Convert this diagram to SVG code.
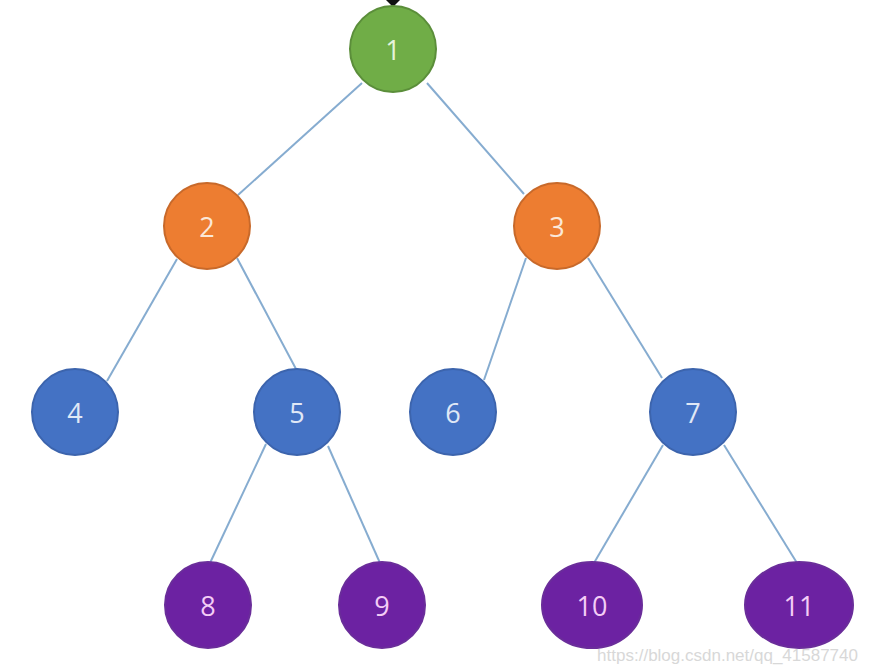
<svg xmlns="http://www.w3.org/2000/svg" width="869" height="672" viewBox="0 0 869 672">
<style>
.e{stroke:#86acd0;stroke-width:2;fill:none}
.t{font-family:"Open Sans","Liberation Sans",sans-serif;font-size:27px;text-anchor:middle;dominant-baseline:central}
.g{fill:#70ad47;stroke:#5b8e3a;stroke-width:2}
.o{fill:#ed7d31;stroke:#c8692a;stroke-width:2}
.b{fill:#4472c4;stroke:#3c64ad;stroke-width:2}
.p{fill:#6c22a2;stroke:#6a2d9a;stroke-width:2}
.tg{fill:#e6f3dc}.to{fill:#fbe8d8}.tb{fill:#e0e8f6}.tp{fill:#f4cdf6}
</style>
<rect width="869" height="672" fill="#ffffff"/>
<g id="connectors">
<line class="e" x1="362" y1="83" x2="238" y2="195"/>
<line class="e" x1="427" y1="83" x2="524" y2="194"/>
<line class="e" x1="177" y1="259" x2="107" y2="381"/>
<line class="e" x1="237" y1="258" x2="296" y2="369"/>
<line class="e" x1="526" y1="258" x2="484" y2="380"/>
<line class="e" x1="588" y1="258" x2="662" y2="378"/>
<line class="e" x1="266" y1="444" x2="210" y2="563"/>
<line class="e" x1="328" y1="446" x2="380" y2="563"/>
<line class="e" x1="663" y1="445" x2="594" y2="563"/>
<line class="e" x1="724" y1="445" x2="797" y2="563"/>
<path d="M386 0 L400 0 L393 7 Z" fill="#111"/>
</g>
<g id="n1"><circle class="g" cx="393" cy="49" r="43"/><text class="t tg" x="393" y="49">1</text></g>
<g id="n2"><circle class="o" cx="207" cy="226" r="43"/><text class="t to" x="207" y="226">2</text></g>
<g id="n3"><circle class="o" cx="557" cy="226" r="43"/><text class="t to" x="557" y="226">3</text></g>
<g id="n4"><circle class="b" cx="75" cy="412" r="43"/><text class="t tb" x="75" y="412">4</text></g>
<g id="n5"><circle class="b" cx="297" cy="412" r="43"/><text class="t tb" x="297" y="412">5</text></g>
<g id="n6"><circle class="b" cx="453" cy="412" r="43"/><text class="t tb" x="453" y="412">6</text></g>
<g id="n7"><circle class="b" cx="693" cy="412" r="43"/><text class="t tb" x="693" y="412">7</text></g>
<g id="n8"><circle class="p" cx="208" cy="605" r="43"/><text class="t tp" x="208" y="605">8</text></g>
<g id="n9"><circle class="p" cx="382" cy="605" r="43"/><text class="t tp" x="382" y="605">9</text></g>
<g id="n10"><ellipse class="p" cx="592" cy="605" rx="50" ry="43"/><text class="t tp" x="592" y="605">10</text></g>
<g id="n11"><ellipse class="p" cx="799" cy="605" rx="54" ry="43"/><text class="t tp" x="799" y="605">11</text></g>
<text x="858" y="661" font-family="'Liberation Sans',Arial,sans-serif" font-size="17" fill="#d8d8d8" text-anchor="end">https://blog.csdn.net/qq_41587740</text>
</svg>
